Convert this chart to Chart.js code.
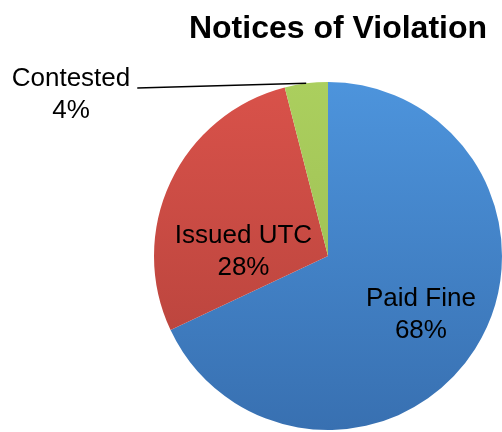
<!DOCTYPE html>
<html>
<head>
<meta charset="utf-8">
<script src="https://cdn.jsdelivr.net/npm/chart.js@4"></script>
<style>
  html, body { margin: 0; padding: 0; background: #fff; }
  canvas { display: block; }
</style>
</head>
<body>
<canvas id="pie" width="502" height="432"></canvas>
<script>
// Data
const categories = ['Paid Fine', 'Issued UTC', 'Contested'];
const shares = [68, 28, 4];
const shareLabels = ['68%', '28%', '4%'];
const chartTitle = 'Notices of Violation';

// Slice colours (top -> bottom of gradient)
const gradTop = ['#4d94dc', '#d9524a', '#abcf5e'];
const gradBottom = ['#3870b1', '#b2413a', '#98b84f'];

// Label placement, as fractions of the radius from the pie centre
const labelOffset = [[0.534, 0.328], [-0.486, -0.037], [-1.477, -0.937]];
const leaderLine = [false, false, true];

function sliceFill(ctx) {
    const chart = ctx.chart;
    const area = chart.chartArea;
    if (!area) return gradTop[ctx.dataIndex];
    const g = chart.ctx.createLinearGradient(0, area.top, 0, area.bottom);
    g.addColorStop(0, gradTop[ctx.dataIndex]);
    g.addColorStop(1, gradBottom[ctx.dataIndex]);
    return g;
}

const labelPlugin = {
    id: 'sliceLabels',
    afterDraw(chart) {
        const c = chart.ctx;
        const arcs = chart.getDatasetMeta(0).data;
        c.save();

        // title
        c.fillStyle = '#000';
        c.font = 'bold 32px "Liberation Sans", Arial, sans-serif';
        c.textAlign = 'center';
        c.textBaseline = 'alphabetic';
        c.fillText(chartTitle, 338, 38);

        c.font = '26px "Liberation Sans", Arial, sans-serif';
        arcs.forEach((arc, i) => {
            const r = arc.outerRadius;
            const lx = arc.x + labelOffset[i][0] * r;
            const ly = arc.y + labelOffset[i][1] * r;
            c.fillText(categories[i], lx, ly - 7);
            c.fillText(shareLabels[i], lx, ly + 25);

            if (leaderLine[i]) {
                const mid = (arc.startAngle + arc.endAngle) / 2;
                const ex = arc.x + Math.cos(mid) * r;
                const ey = arc.y + Math.sin(mid) * r;
                const w = c.measureText(categories[i]).width;
                c.beginPath();
                c.strokeStyle = '#000';
                c.lineWidth = 1.5;
                c.moveTo(lx + w / 2 + 7, ly - 5);
                c.lineTo(ex, ey);
                c.stroke();
            }
        });
        c.restore();
    }
};

new Chart(document.getElementById('pie').getContext('2d'), {
    type: 'pie',
    data: {
        labels: categories,
        datasets: [{
            data: shares,
            backgroundColor: sliceFill,
            borderWidth: 0,
            hoverOffset: 0
        }]
    },
    options: {
        responsive: false,
        animation: false,
        layout: { padding: { left: 154, top: 82, right: 0, bottom: 2 } },
        plugins: {
            legend: { display: false },
            title: { display: false },
            tooltip: { enabled: false }
        }
    },
    plugins: [labelPlugin]
});
</script>
</body>
</html>
